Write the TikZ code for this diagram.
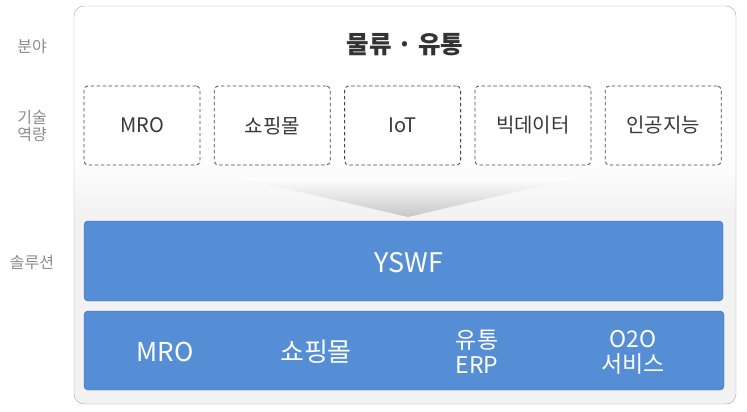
\documentclass[tikz,border=0pt]{standalone}
\usepackage{fontspec}
\setmainfont{Noto Sans CJK KR}
\usetikzlibrary{positioning}
\definecolor{solblue}{RGB}{85,142,213}
\definecolor{soledge}{RGB}{59,89,200}
\definecolor{sidegray}{RGB}{140,140,140}
\definecolor{darktext}{RGB}{51,51,51}
\pgfdeclareverticalshading{panelfade}{100bp}{color(0bp)=(black!5); color(49bp)=(black!5); color(56bp)=(white); color(100bp)=(white)}

\begin{document}
\begin{tikzpicture}[
    x=1pt, y=-1pt,
    node distance=13.5pt,
    side/.style={font=\fontsize{16}{17}\selectfont, text=sidegray, align=center},
    skill/.style={draw=black!72, line width=0.8pt, dash pattern=on 3.5pt off 2.5pt, rounded corners=4pt, minimum width=116pt, minimum height=79pt, inner sep=0pt, font=\fontsize{20}{24}\selectfont, text=black!78},
    band/.style={draw=soledge, fill=solblue, rounded corners=4pt, minimum width=639pt, minimum height=80pt, inner sep=0pt},
    item/.style={text=white, font=\fontsize{23}{25}\selectfont, align=center}
]
    \useasboundingbox (0,0) rectangle (747,412);

    % outer panel
    \shade[shading=panelfade, draw=black!35, rounded corners=10pt] (74,6) rectangle (736,404);

    % row labels
    \node[side] (field) at (32,47) {분야};
    \node[side] (tech) at (32,126) {기술\\역량};
    \node[side] (sol) at (32,263) {솔루션};

    % field title
    \node[font=\bfseries\fontsize{24.5}{28}\selectfont, text=darktext] (title) at (405,45) {물류 · 유통};

    % technology boxes
    \node[skill] (mro) at (142,125.5) {MRO};
    \node[skill, right=of mro] (shop) {쇼핑몰};
    \node[skill, right=of shop] (iot) {IoT};
    \node[skill, right=of iot] (bigdata) {빅데이터};
    \node[skill, right=of bigdata] (ai) {인공지능};

    % funnel
    \coordinate (tip) at (408,217);
    \shade[top color=white, bottom color=black!22] (240,178) -- (575,178) -- (tip) -- cycle;

    % solution bands
    \node[band] (yswf) at (403.5,261) {};
    \node[text=white, font=\fontsize{27}{30}\selectfont] (yswftext) at (409,263) {YSWF};
    \node[band, minimum width=640pt, minimum height=79pt] (apps) at (404,350.5) {};

    \node[item, font=\fontsize{26}{28}\selectfont] (smro) at (165,352) {MRO};
    \node[item, font=\fontsize{26}{28}\selectfont] (sshop) at (316,352) {쇼핑몰};
    \node[item] (erp) at (477,352) {유통\\ERP};
    \node[item] (o2o) at (633,352) {O2O\\서비스};
\end{tikzpicture}
\end{document}
